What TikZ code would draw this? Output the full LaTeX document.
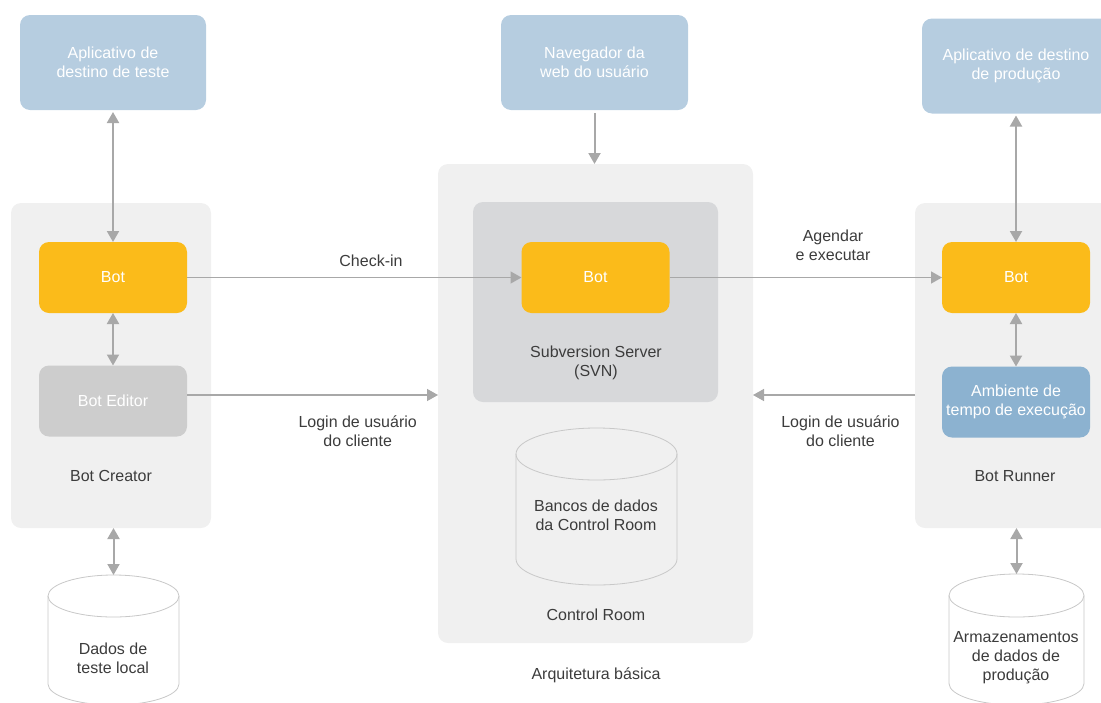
\documentclass[tikz,border=0pt]{standalone}
\usepackage{fontspec}
\setmainfont{Liberation Sans}
\usepackage{tikz}
\usetikzlibrary{arrows.meta, positioning, calc}
\usepackage{xcolor}
\definecolor{appblue}{RGB}{182,205,224}
\definecolor{botorange}{RGB}{251,187,26}
\definecolor{panelgray}{RGB}{240,240,240}
\definecolor{svngray}{RGB}{215,216,218}
\definecolor{editorgray}{RGB}{205,205,205}
\definecolor{runblue}{RGB}{140,178,208}
\definecolor{linegray}{RGB}{168,168,168}
\definecolor{textgray}{RGB}{60,60,60}
\definecolor{dbstroke}{RGB}{200,200,200}

\tikzset{
  app/.style={fill=appblue, rounded corners=10, text=white, align=center, outer sep=0},
  panel/.style={fill=panelgray, rounded corners=10, outer sep=0},
  botbox/.style={fill=botorange, rounded corners=10, text=white, align=center,
    minimum width=148, minimum height=71, inner sep=2pt, outer sep=0},
  lbl/.style={text=textgray, align=center},
  dbbox/.style={outer sep=0, inner sep=0},
  dbline/.style={draw=dbstroke, line width=0.8pt},
  flow/.style={draw=linegray, line width=1.4pt, -{Triangle[length=11pt, width=12pt]}},
  dflow/.style={draw=linegray, line width=2pt,
    {Triangle[length=11pt, width=12pt]}-{Triangle[length=11pt, width=12pt]}}
}

% cylinder outline round a named box: node, x radius, y radius, fill
\newcommand{\dbcyl}[4]{%
  \draw[dbline, fill=#4] ([yshift=-#3]#1.north west) -- ([yshift=#3]#1.south west)
    arc[start angle=180, end angle=360, x radius=#2, y radius=#3]
    -- ([yshift=-#3]#1.north east)
    arc[start angle=0, end angle=180, x radius=#2, y radius=#3] -- cycle;
  \draw[dbline] ([yshift=-#3]#1.north west)
    arc[start angle=180, end angle=360, x radius=#2, y radius=#3];
}

\begin{document}
\begin{tikzpicture}[x=1pt, y=1pt, font=\fontsize{16}{19}\selectfont]
  \useasboundingbox (0,0) rectangle (1101,-702);
  \clip (0,0) rectangle (1101,-702);

  % target applications and browser
  \node[app, minimum width=186, minimum height=95] (tapp) at (113,-62.5) {Aplicativo de\\destino de teste};
  \node[app, minimum width=187, minimum height=95] (nav) at (594.5,-62.5) {Navegador da\\web do usuário};
  \node[app, minimum width=188, minimum height=95] (papp) at (1016,-66) {Aplicativo de destino\\de produção};

  % panels
  \node[panel, minimum width=200, minimum height=325] (creator) at (111,-365.5) {};
  \node[panel, minimum width=315, minimum height=479] (croom) at (595.5,-403.5) {};
  \node[panel, minimum width=200, minimum height=325] (runner) at (1015,-365.5) {};
  \node[fill=svngray, rounded corners=10, minimum width=245, minimum height=200, outer sep=0] (svn) at (595.5,-302) {};

  \node[lbl] (creatorlbl) at (111,-476) {Bot Creator};
  \node[lbl] (svnlbl) at (596,-363) {Subversion Server\\(SVN)};
  \node[lbl] (croomlbl) at (596,-615) {Control Room};
  \node[lbl] (runnerlbl) at (1015,-476) {Bot Runner};

  % bots
  \node[botbox] (botc) at (113,-277.5) {Bot};
  \node[botbox, fill=editorgray] (editor) at (113,-401) {Bot Editor};
  \node[botbox] (bots) at (595.5,-277.5) {Bot};
  \node[botbox] (botr) at (1016,-277.5) {Bot};
  \node[botbox, fill=runblue] (amb) at (1016,-402) {Ambiente de\\tempo de execução};

  % data stores
  \node[dbbox, minimum width=131, minimum height=130] (dbtest) at (113.5,-640) {};
  \dbcyl{dbtest}{65.5}{21}{white}
  \node[lbl] (dbtestlbl) at (113,-658) {Dados de\\teste local};

  \node[dbbox, minimum width=161, minimum height=157] (dbcr) at (596.5,-506.5) {};
  \dbcyl{dbcr}{80.5}{26}{panelgray}
  \node[lbl] (dbcrlbl) at (596,-515) {Bancos de dados\\da Control Room};

  \node[dbbox, minimum width=135, minimum height=131] (dbprod) at (1016.5,-639.5) {};
  \dbcyl{dbprod}{67.5}{21.5}{white}
  \node[lbl] (dbprodlbl) at (1016,-658) {Armazenamentos\\de dados de\\produção};

  % connectors
  \draw[dflow, shorten <=2pt] (tapp.south) -- (botc.north);
  \draw[dflow] (botc.south) -- (editor.north);
  \draw[dflow] (creator.south -| dbtest.north) -- (dbtest.north);
  \draw[flow, line width=2pt, shorten <=3pt] (nav.south) -- (nav.south |- croom.north);
  \draw[dflow, shorten <=2pt] (papp.south) -- (botr.north);
  \draw[dflow] (botr.south) -- (amb.north);
  \draw[dflow] (runner.south -| dbprod.north) -- (dbprod.north);

  \draw[flow] (botc.east) -- node[lbl, above=7pt, pos=0.55] {Check-in} (bots.west);
  \draw[flow] (bots.east) -- node[lbl, above=13pt, pos=0.6] {Agendar\\e executar} (botr.west);
  \draw[flow] ([yshift=6]editor.east) -- node[lbl, below=17pt, pos=0.68] {Login de usuário\\do cliente} ([yshift=6]editor.east -| croom.west);
  \draw[flow] ([yshift=7]amb.west -| runner.west) -- node[lbl, below=17pt, pos=0.46] {Login de usuário\\do cliente} ([yshift=7]amb.west -| croom.east);

  \node[lbl] (title) at (596,-675) {Arquitetura básica};
\end{tikzpicture}
\end{document}
